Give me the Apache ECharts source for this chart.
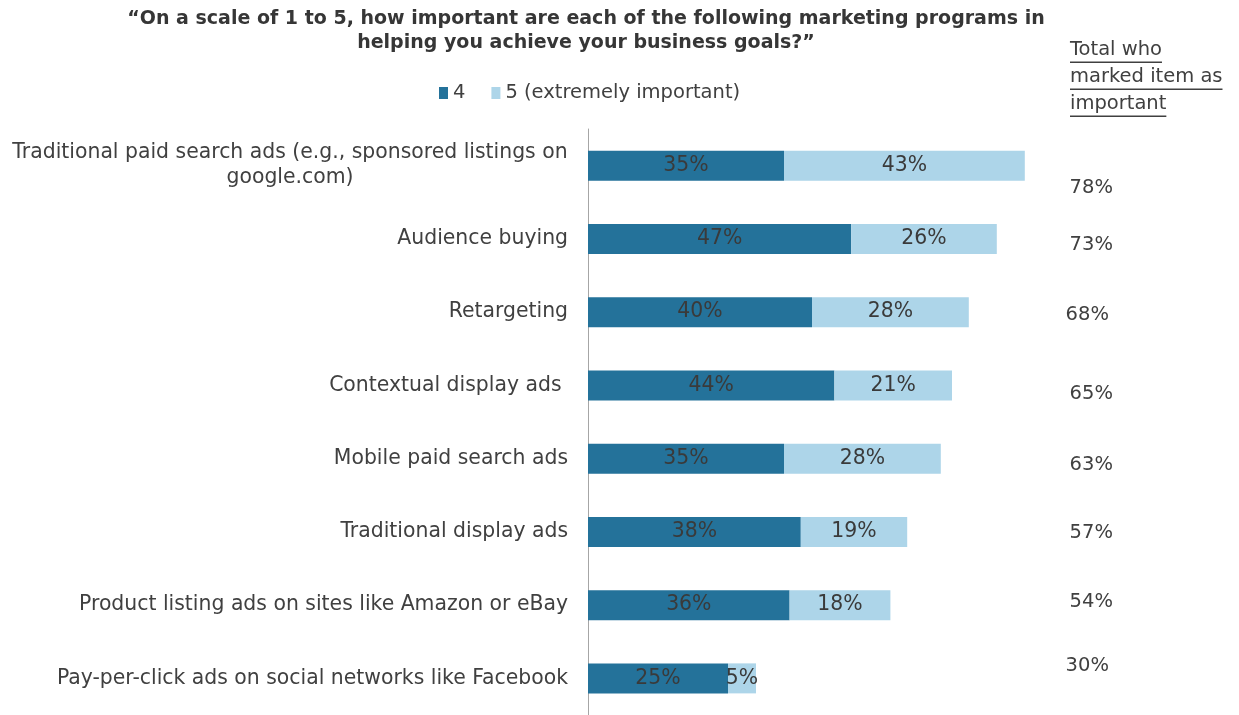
<!DOCTYPE html>
<html>
<head>
<meta charset="utf-8">
<script src="https://cdn.jsdelivr.net/npm/echarts@6/dist/echarts.min.js"></script>
<style>
  html, body { margin: 0; padding: 0; background: #fff; }
  #chart { width: 1239px; height: 715px; }
</style>
</head>
<body>
<div id="chart"></div>
<script>
// Survey programs, top to bottom
const categories = [
  'Traditional paid search ads (e.g., sponsored listings on\ngoogle.com)',
  'Audience buying',
  'Retargeting',
  'Contextual display ads ',
  'Mobile paid search ads',
  'Traditional display ads',
  'Product listing ads on sites like Amazon or eBay',
  'Pay-per-click ads on social networks like Facebook'
];
// Share rating 4 and share rating 5 (%)
const rated4 = [35, 47, 40, 44, 35, 38, 36, 25];
const rated5 = [43, 26, 28, 21, 28, 19, 18, 5];
const seriesNames = ['4', '5 (extremely important)'];
const totalHeader = ['Total who', 'marked item as', 'important'];
const titleText = '\u201cOn a scale of 1 to 5, how important are each of the following marketing programs in\nhelping you achieve your business goals?\u201d';

// Layout tweaks for the totals column (pixel nudges)
const totalNudgeY = [22, 6, 3, 9, 6, 1, -3, -12];
const totalNudgeX = [0, 0, -4, 0, 0, 0, 0, -4];
const totalColumnAt = 86; // x position of the totals column, in axis units

const FONT = '"DejaVu Sans", sans-serif';
const FS = 19.5;      // legend, header, totals
const FS_AXIS = 20.4; // category labels and bar values
const TXT = '#404040';
const DARK = '#24729A';
const LIGHT = '#ADD5E9';

const totals = rated4.map((v, i) => v + rated5[i]);

const chart = echarts.init(document.getElementById('chart'));

// Measure header lines for the underline strokes
const ctx = document.createElement('canvas').getContext('2d');
ctx.font = FS + 'px ' + FONT;
const headerX = 1070, headerY0 = 51, headerLH = 27;
const headerGraphics = [];
totalHeader.forEach((line, i) => {
  const y = headerY0 + i * headerLH;
  headerGraphics.push({
    type: 'text', left: headerX, top: y - 11,
    style: { text: line, font: FS + 'px ' + FONT, fill: TXT }
  });
  headerGraphics.push({
    type: 'rect',
    shape: { x: headerX, y: y + 10.5, width: ctx.measureText(line).width, height: 1.5 },
    style: { fill: TXT }
  });
});

const valueLabel = {
  show: true, position: 'inside', formatter: '{c}%',
  fontSize: FS_AXIS, color: '#3a3a3a', fontFamily: FONT
};

const option = {
  animation: false,
  textStyle: { fontFamily: FONT },
  graphic: [
    {
      type: 'text', x: 586, y: 7,
      style: {
        text: titleText, font: 'bold 19px ' + FONT, fill: '#363636',
        align: 'center', lineHeight: 24
      }
    }
  ].concat(headerGraphics),
  legend: {
    data: seriesNames,
    top: 78, left: 434,
    icon: 'rect', itemWidth: 9, itemHeight: 12, itemGap: 26,
    textStyle: { fontSize: FS, color: TXT, fontFamily: FONT }
  },
  grid: { left: 588, top: 129, width: 560, height: 586 },
  xAxis: {
    type: 'value', min: 0, max: 100,
    show: false
  },
  yAxis: {
    type: 'category', data: categories, inverse: true,
    axisLine: { show: true, lineStyle: { color: '#a6a6a6', width: 1 } },
    axisTick: { show: false },
    axisLabel: {
      margin: 20, fontSize: FS_AXIS, color: TXT, fontFamily: FONT,
      formatter: (v) => {
        if (v.indexOf('\n') < 0) return v;
        return v.split('\n').map(s => '{c|' + s + '}').join('\n');
      },
      rich: {
        c: { width: 556, align: 'center', fontSize: FS_AXIS, color: TXT, fontFamily: FONT, lineHeight: 25 }
      }
    }
  },
  series: [
    {
      name: seriesNames[0], type: 'bar', stack: 'imp', data: rated4,
      barWidth: 30, itemStyle: { color: DARK }, label: valueLabel
    },
    {
      name: seriesNames[1], type: 'bar', stack: 'imp', data: rated5,
      barWidth: 30, itemStyle: { color: LIGHT }, label: valueLabel
    },
    {
      name: 'Total', type: 'scatter', symbolSize: 0, silent: true,
      itemStyle: { opacity: 1 },
      data: totals.map((t, i) => ({
        value: [totalColumnAt, categories[i], t],
        label: { offset: [totalNudgeX[i], totalNudgeY[i]] }
      })),
      label: {
        show: true, position: 'inside', align: 'left', verticalAlign: 'middle',
        formatter: p => p.value[2] + '%', fontSize: FS, color: TXT, fontFamily: FONT, opacity: 1
      }
    }
  ]
};

chart.setOption(option);
</script>
</body>
</html>
